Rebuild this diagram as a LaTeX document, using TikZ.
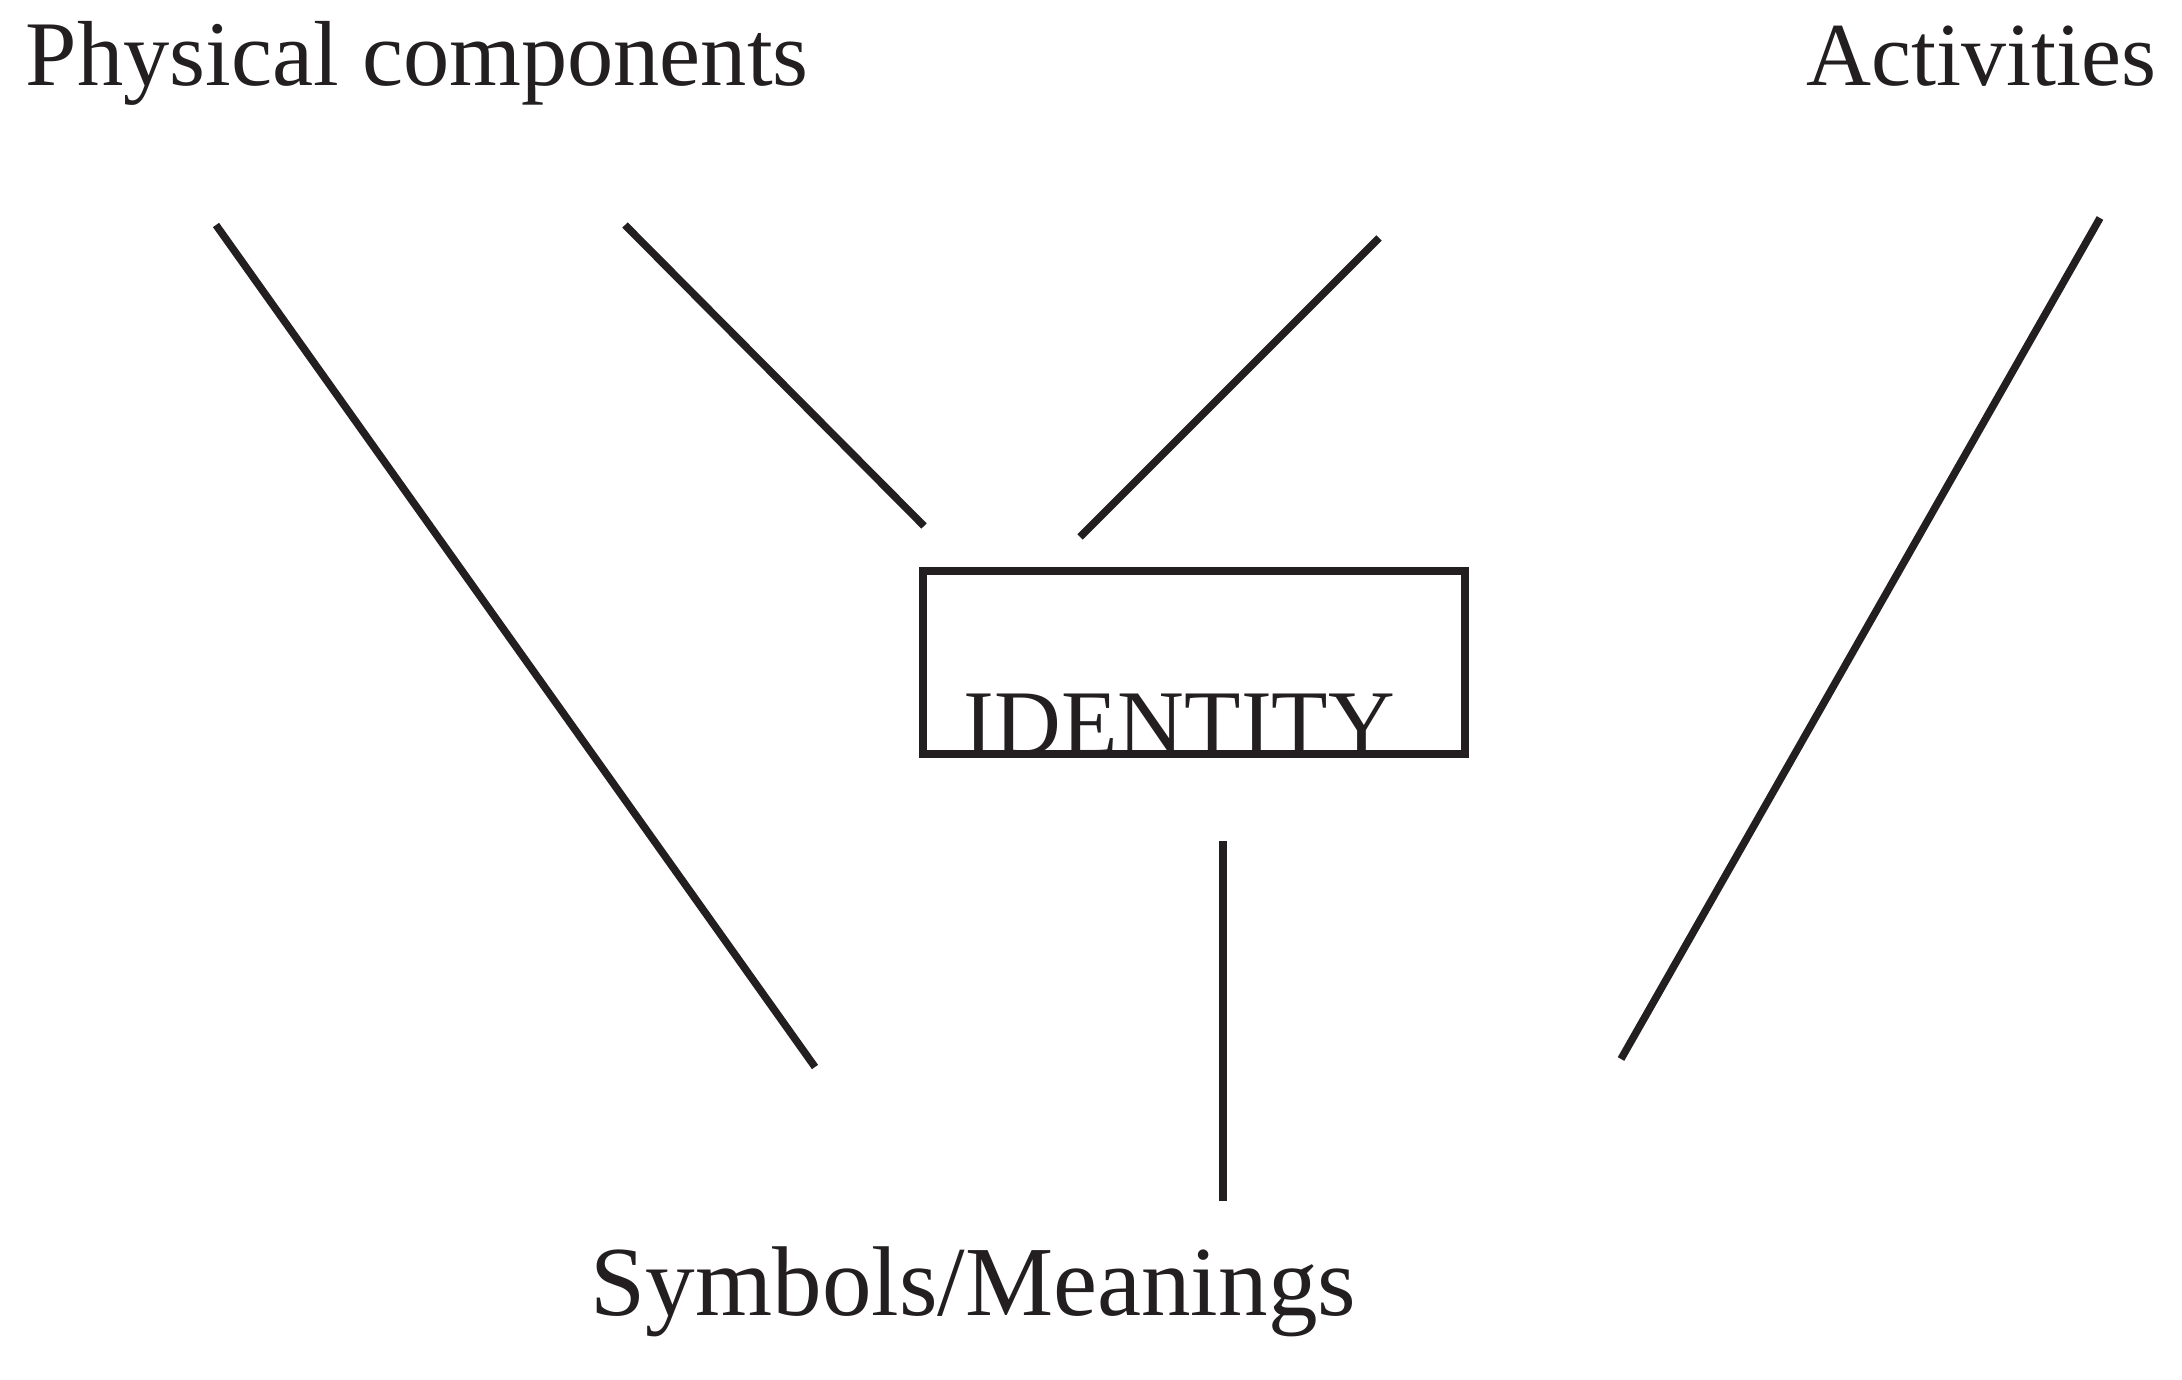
\documentclass[tikz,border=0pt]{standalone}
\usepackage{fontspec}
\setmainfont{Liberation Serif}
\usetikzlibrary{
  positioning,
  calc
}
\definecolor{idInk}{HTML}{231F20}

\begin{document}
\begin{tikzpicture}[
  every node/.style={text=idInk, inner sep=0pt},
  facet/.style={font=\fontsize{25.6}{30}\selectfont},
  facetwide/.style={font=\fontsize{26.3}{31}\selectfont},
  facetbig/.style={font=\fontsize{28.2}{33}\selectfont},
  idbox/.style={
    rectangle, draw=idInk, line width=0.075cm,
    minimum width=5.42cm, minimum height=1.83cm
  },
  link/.style={draw=idInk, line width=0.075cm}
]
 \useasboundingbox (0,0) rectangle (21.82,13.79);

 % Labels
 \node[facetwide, anchor=base west] (phys) at ( 0.25,12.93) {Physical components};
 \node[facet, anchor=base east]     (act)  at (21.57,12.93) {Activities};
 \node[facetbig, anchor=base west]  (sym)  at ( 5.90, 0.64) {Symbols/Meanings};

 % Central box
 \node[idbox] (idb) at (11.94,7.165) {};
 \node[facetwide, anchor=base west] (idt) at ($(idb.south west)+(0.44,0.03)$) {IDENTITY};

 % Line ends
 \coordinate (l1a) at ( 2.16,11.54); \coordinate (l1b) at ( 8.15, 3.12);
 \coordinate (l2a) at ( 6.25,11.54); \coordinate (l2b) at ( 9.24, 8.53);
 \coordinate (l3a) at (13.79,11.41); \coordinate (l3b) at (10.80, 8.42);
 \coordinate (l4a) at (21.00,11.61); \coordinate (l4b) at (16.21, 3.20);
 \coordinate (l5a) at (12.23, 5.38); \coordinate (l5b) at (12.23, 1.78);

 \draw[link] (l1a) -- (l1b); \draw[link] (l2a) -- (l2b);
 \draw[link] (l3a) -- (l3b); \draw[link] (l4a) -- (l4b);
 \draw[link] (l5a) -- (l5b);
\end{tikzpicture}
\end{document}
